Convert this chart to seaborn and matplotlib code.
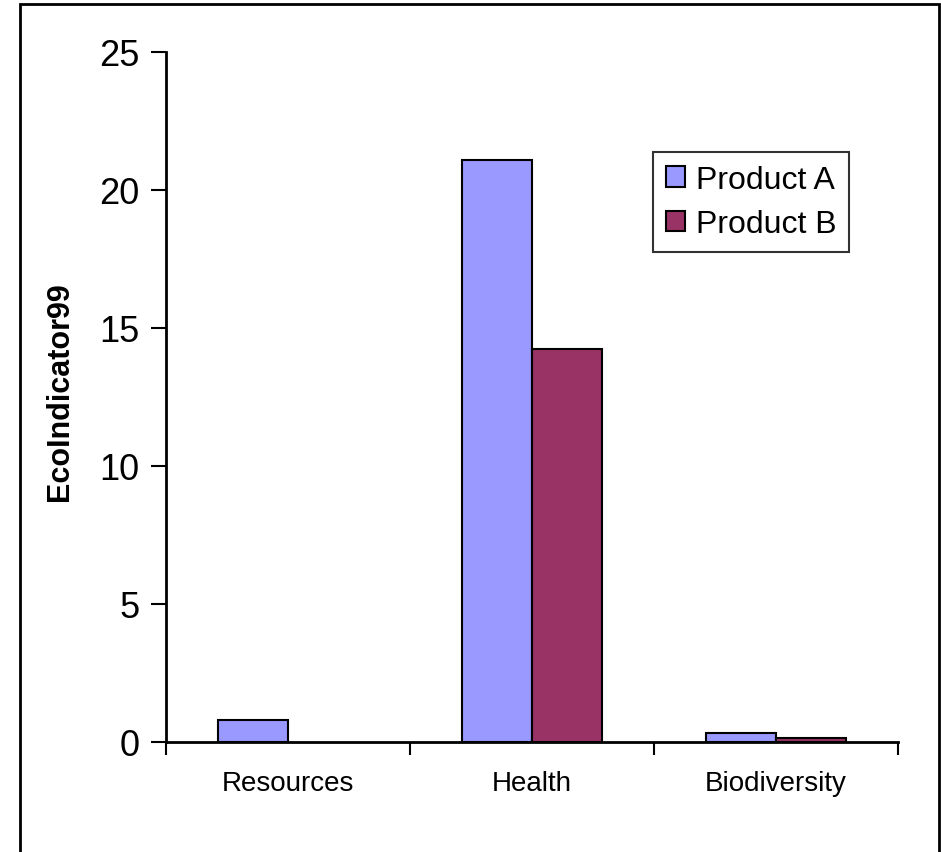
import pandas as pd
import matplotlib.pyplot as plt
import seaborn as sns
from matplotlib.patches import Rectangle

# Values
categories = ["Resources", "Health", "Biodiversity"]
product_a = [0.80, 21.1, 0.34]
product_b = [0.0, 14.25, 0.16]
series = ["Product A", "Product B"]
colors = ["#9999FF", "#993366"]
y_ticks = [0, 5, 10, 15, 20, 25]

df = pd.DataFrame({
    "Category": categories * 2,
    "Value": product_a + product_b,
    "Series": [series[0]] * 3 + [series[1]] * 3,
})

sns.set_style("white")
plt.rcParams["font.family"] = ["Liberation Sans", "DejaVu Sans"]
plt.rcParams["text.color"] = "black"
plt.rcParams["xtick.color"] = "black"
plt.rcParams["ytick.color"] = "black"
plt.rcParams["axes.labelcolor"] = "black"

fig = plt.figure(figsize=(9.41, 8.53), dpi=100)
ax = fig.add_axes([0.1764, 0.129, 0.7779, 0.8089])

sns.barplot(data=df, x="Category", y="Value", hue="Series", order=categories,
            hue_order=series, palette=colors, saturation=1, width=0.574, gap=0,
            edgecolor="black", linewidth=1.5, errorbar=None, ax=ax)

leg = ax.legend(loc="upper left", bbox_to_anchor=(0.665, 0.855), fontsize=23,
                frameon=True, fancybox=False, edgecolor="black",
                handlelength=0.6, handleheight=0.6, handletextpad=0.35,
                borderpad=0.4, labelspacing=0.45, borderaxespad=0)
leg.get_frame().set_linewidth(1.5)

# zero-height bars are not drawn in the original
for p in ax.patches:
    if p.get_height() == 0:
        p.set_visible(False)

ax.set_xlim(-0.5, 2.5)
ax.set_ylim(0, 25)
ax.set_yticks(y_ticks)
ax.set_yticklabels([str(t) for t in y_ticks], fontsize=26)
ax.tick_params(axis="y", direction="out", length=11, width=1.5, pad=8, left=True)
ax.tick_params(axis="x", which="major", length=0, labelsize=20, pad=20)
ax.set_xticks([-0.5, 0.5, 1.5, 2.5], minor=True)
ax.tick_params(axis="x", which="minor", direction="out", length=9, width=1.5, bottom=True)

for side in ["top", "right"]:
    ax.spines[side].set_visible(False)
for side in ["left", "bottom"]:
    ax.spines[side].set_linewidth(2)
    ax.spines[side].set_color("black")

ax.set_xlabel("")
ax.set_ylabel("EcoIndicator99", fontsize=22, fontweight="bold")
ax.yaxis.set_label_coords(-0.124, 0.509)

# outer border around the chart area
fig.patches.append(Rectangle((20 / 941, -0.01), 919 / 941, 1 - 5 / 853 + 0.01,
                             transform=fig.transFigure, fill=False,
                             edgecolor="black", linewidth=2))

plt.savefig("out.png", dpi=100)
